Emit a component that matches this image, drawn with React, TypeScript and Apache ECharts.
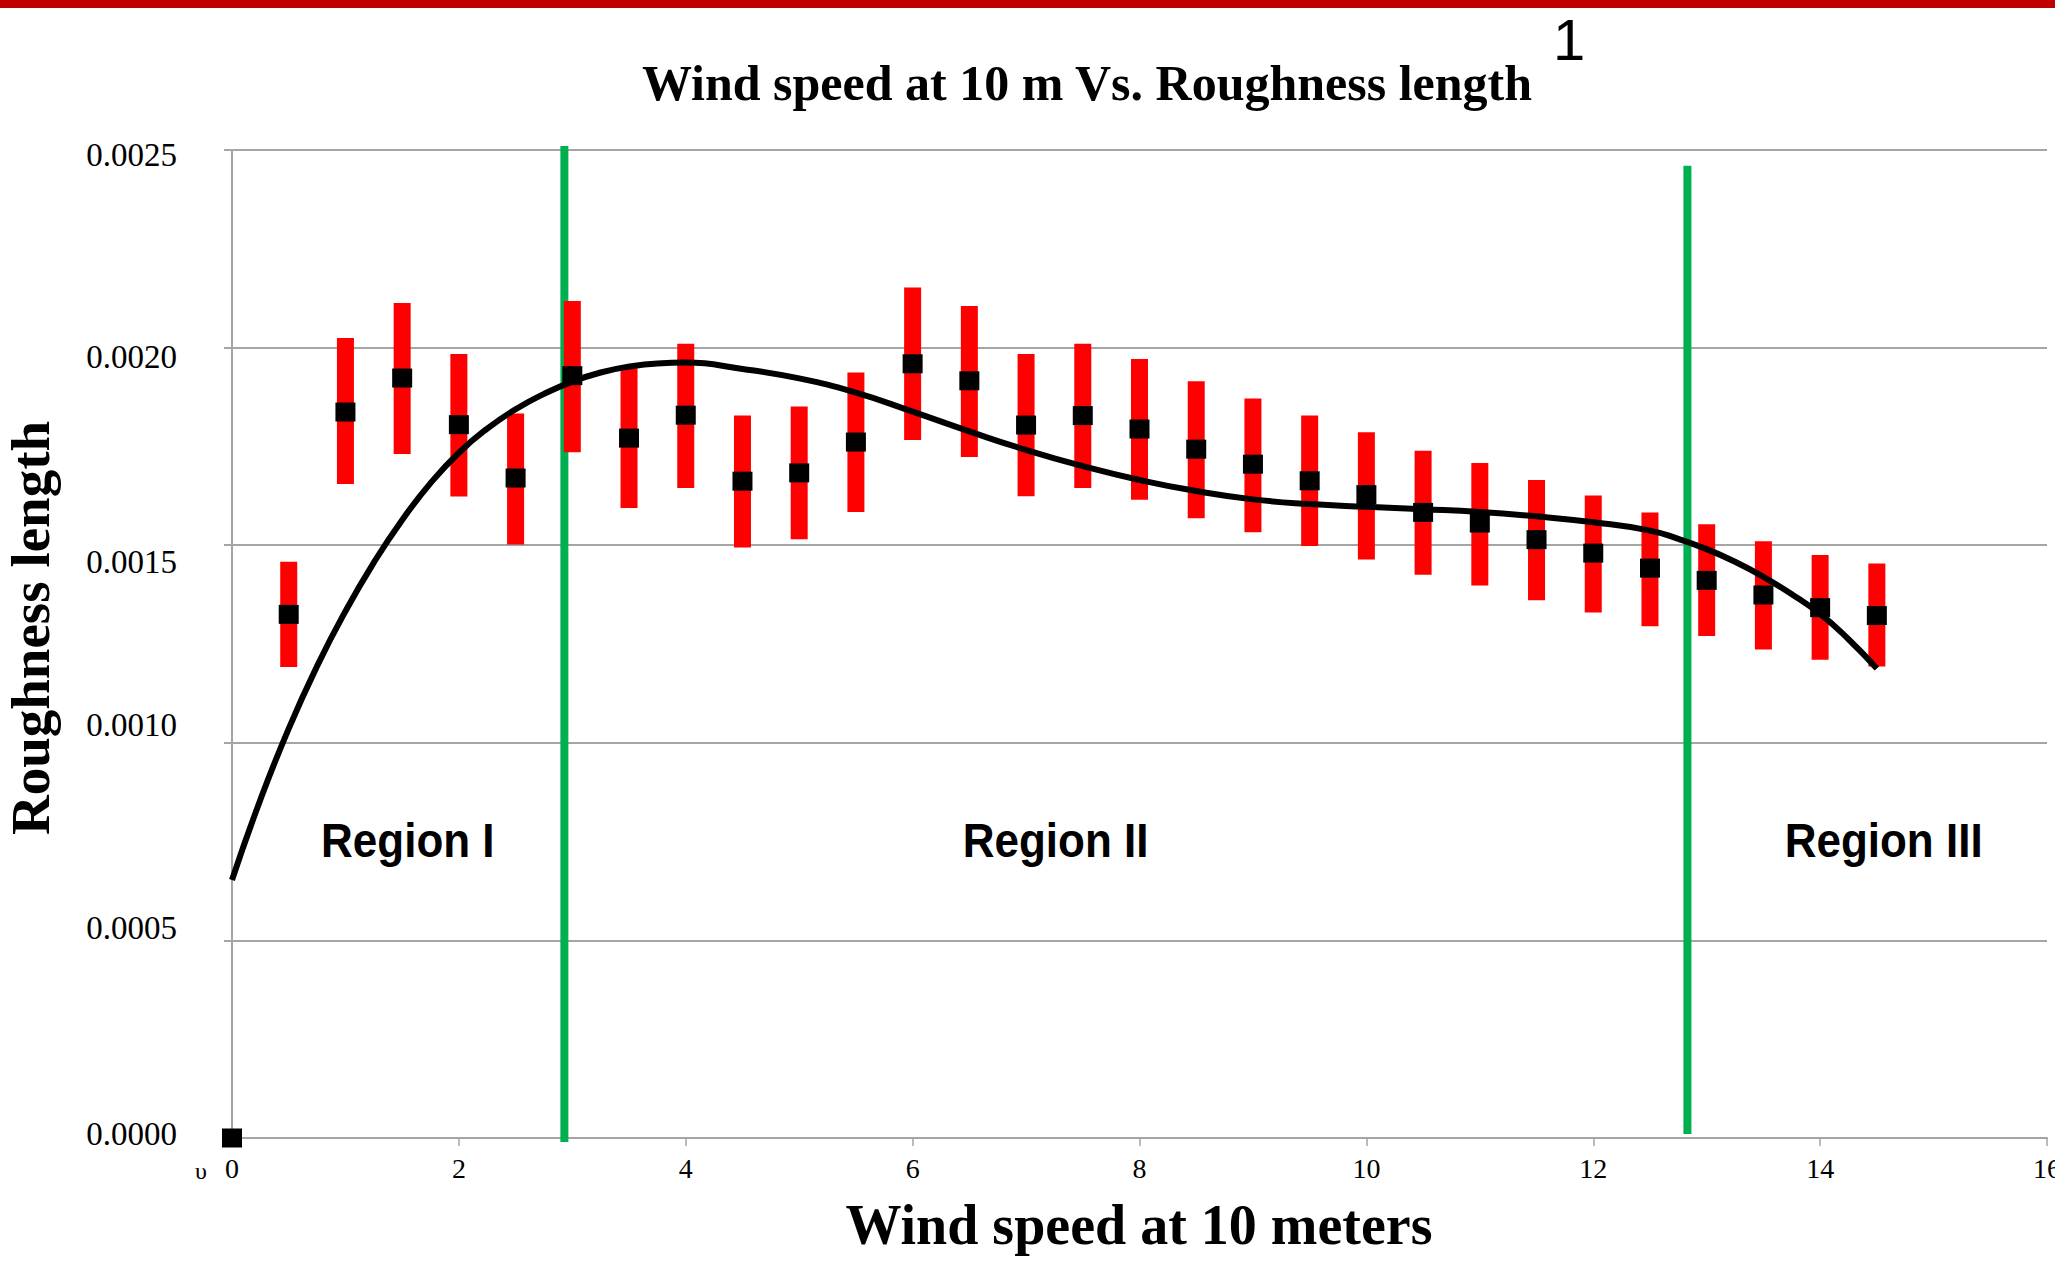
import React, { useEffect, useRef } from "react";
import * as echarts from "echarts";

// ---- data ----
const windSpeed = [0.5, 1, 1.5, 2, 2.5, 3, 3.5, 4, 4.5, 5, 5.5, 6, 6.5, 7, 7.5, 8, 8.5, 9, 9.5, 10, 10.5, 11, 11.5, 12, 12.5, 13, 13.5, 14, 14.5];
const roughnessMean = [0.001325, 0.001837, 0.001923, 0.001805, 0.00167, 0.001929, 0.001771, 0.001829, 0.001662, 0.001683, 0.001761, 0.001959, 0.001916, 0.001804, 0.001828, 0.001794, 0.001743, 0.001705, 0.001663, 0.001628, 0.001583, 0.001556, 0.001514, 0.00148, 0.001442, 0.001411, 0.001374, 0.001342, 0.001322];
const roughnessLow = [0.001192, 0.001655, 0.001731, 0.001623, 0.001502, 0.001735, 0.001594, 0.001645, 0.001494, 0.001515, 0.001584, 0.001766, 0.001723, 0.001624, 0.001645, 0.001615, 0.001568, 0.001533, 0.001498, 0.001464, 0.001425, 0.001398, 0.001361, 0.00133, 0.001295, 0.00127, 0.001236, 0.00121, 0.001193];
const roughnessHigh = [0.001458, 0.002024, 0.002113, 0.001984, 0.001833, 0.002118, 0.001948, 0.00201, 0.001828, 0.001851, 0.001937, 0.002152, 0.002105, 0.001984, 0.00201, 0.001971, 0.001915, 0.001871, 0.001828, 0.001786, 0.001739, 0.001708, 0.001665, 0.001626, 0.001583, 0.001553, 0.00151, 0.001475, 0.001454];
const originPoint = [0, 0];

// polynomial trend line
const trendX = [0, 0.25, 0.5, 0.75, 1, 1.25, 1.5, 1.75, 2, 2.25, 2.5, 2.75, 3, 3.25, 3.5, 3.75, 4, 4.5, 5, 5.5, 6, 6.5, 7, 7.5, 8, 8.5, 9, 9.5, 10, 10.5, 11, 11.5, 12, 12.5, 12.75, 13, 13.25, 13.5, 13.75, 14, 14.25, 14.5];
const trendY = [0.000653, 0.000856, 0.001036, 0.001194, 0.001333, 0.001456, 0.001564, 0.001657, 0.001734, 0.001795, 0.001844, 0.001883, 0.001914, 0.001937, 0.001952, 0.00196, 0.001962, 0.001946, 0.001922, 0.001886, 0.001838, 0.001788, 0.001741, 0.0017, 0.001665, 0.001637, 0.001616, 0.001604, 0.001597, 0.001591, 0.001584, 0.001573, 0.001558, 0.001537, 0.001516, 0.00149, 0.001458, 0.00142, 0.001376, 0.001326, 0.001262, 0.001188];

const boundaryX = [2.93, 12.83];
const boundaryBottom = [-0.00001, 0.00001];
const boundaryTop = [0.00251, 0.00246];

const regionNames = ["Region I", "Region II", "Region III"];
const regionX = [1.55, 7.26, 14.56];
const regionY = [0.000754, 0.000754, 0.000754];

const xTicks = [0, 2, 4, 6, 8, 10, 12, 14, 16];
const yTicks = [0, 0.0005, 0.001, 0.0015, 0.002, 0.0025];

const chartTitle = "Wind speed at 10 m Vs. Roughness length";
const titleNote = "1";
const xAxisTitle = "Wind speed at 10 meters";
const yAxisTitle = "Roughness length";
const strayGlyph = "\u03c5";

export default function App() {
  const ref = useRef<HTMLDivElement>(null);

  useEffect(() => {
    if (!ref.current) return;
    const chart = echarts.init(ref.current, undefined, { renderer: "svg" });

    const serif = "'Liberation Serif', 'Times New Roman', serif";
    const sans = "'Liberation Sans', Arial, sans-serif";
    const gridColor = "#a5a5a5";

    // vertical shifts of the y tick labels (px, + = down), as in the reference
    const yLabelShift = [-4, -12, -17.5, 17, 9.5, 5];
    const yStep = yTicks[1] - yTicks[0];
    const rich: Record<string, any> = {};
    yLabelShift.forEach((d, i) => {
      rich["s" + i] = {
        fontFamily: serif,
        fontSize: 33,
        color: "#000",
        padding: d >= 0 ? [2 * d, 0, 0, 0] : [0, 0, -2 * d, 0],
      };
    });

    const option: any = {
      animation: false,
      backgroundColor: "#fff",
      grid: {
        left: 232,
        right: 8,
        top: 150,
        bottom: 127,
        containLabel: false,
        outerBoundsMode: "none",
      },
      xAxis: {
        type: "value",
        min: xTicks[0],
        max: xTicks[xTicks.length - 1],
        interval: xTicks[1] - xTicks[0],
        axisLine: { show: true, onZero: false, lineStyle: { color: gridColor, width: 2 } },
        axisTick: { show: true, inside: false, length: 8, lineStyle: { color: gridColor, width: 1.5 } },
        splitLine: { show: false },
        axisLabel: {
          show: true,
          margin: 16,
          fontFamily: serif,
          fontSize: 28,
          color: "#000",
          showMinLabel: true,
          showMaxLabel: true,
          hideOverlap: false,
        },
      },
      yAxis: {
        type: "value",
        min: yTicks[0],
        max: yTicks[yTicks.length - 1],
        interval: yStep,
        axisLine: { show: true, lineStyle: { color: gridColor, width: 2 } },
        axisTick: { show: true, inside: false, length: 8, lineStyle: { color: gridColor, width: 2 } },
        splitLine: { show: true, lineStyle: { color: gridColor, width: 2 } },
        axisLabel: {
          show: true,
          margin: 55,
          fontFamily: serif,
          fontSize: 33,
          color: "#000",
          showMinLabel: true,
          showMaxLabel: true,
          hideOverlap: false,
          formatter: (v: number) => {
            const i = Math.round(v / yStep);
            return "{s" + i + "|" + v.toFixed(4) + "}";
          },
          rich,
        },
      },
      series: [
        ...boundaryX.map((bx, i) => ({
          type: "line",
          name: "boundary" + i,
          z: 1,
          clip: false,
          symbol: "none",
          silent: true,
          data: [
            [bx, boundaryBottom[i]],
            [bx, boundaryTop[i]],
          ],
          lineStyle: { color: "#00b050", width: 8, cap: "butt" },
        })),
        {
          type: "custom",
          name: "range",
          z: 2,
          clip: false,
          silent: true,
          encode: { x: 0, y: [1, 2] },
          data: windSpeed.map((x, i) => [x, roughnessLow[i], roughnessHigh[i]]),
          renderItem: (params: any, api: any) => {
            const x = api.value(0);
            const lo = api.coord([x, api.value(1)]);
            const hi = api.coord([x, api.value(2)]);
            const w = 17;
            return {
              type: "rect",
              shape: { x: lo[0] - w / 2, y: hi[1], width: w, height: lo[1] - hi[1] },
              style: { fill: "#ff0000" },
            };
          },
        },
        {
          type: "line",
          name: "trend",
          z: 3,
          clip: false,
          smooth: 0.5,
          symbol: "none",
          silent: true,
          data: trendX.map((x, i) => [x, trendY[i]]),
          lineStyle: { color: "#000", width: 6, cap: "butt", join: "round" },
        },
        {
          type: "scatter",
          name: "mean",
          z: 4,
          clip: false,
          silent: true,
          symbol: "rect",
          symbolSize: [20, 19],
          itemStyle: { color: "#000", opacity: 1 },
          data: [originPoint, ...windSpeed.map((x, i) => [x, roughnessMean[i]])],
        },
        {
          type: "custom",
          name: "regions",
          z: 5,
          clip: false,
          silent: true,
          encode: { x: 0, y: 1 },
          data: regionNames.map((n, i) => [regionX[i], regionY[i], i]),
          renderItem: (params: any, api: any) => {
            const p = api.coord([api.value(0), api.value(1)]);
            const name = regionNames[api.value(2)];
            return {
              type: "text",
              x: p[0],
              y: p[1],
              scaleY: 1.1,
              style: {
                text: name,
                fill: "#000",
                font: "bold 44px " + sans,
                align: "center",
                verticalAlign: "middle",
              },
            };
          },
        },
      ],
      graphic: [
        {
          type: "rect",
          left: 0,
          top: 0,
          shape: { width: 2055, height: 8 },
          style: { fill: "#c00000" },
          silent: true,
        },
        {
          type: "text",
          x: 1087,
          y: 83,
          style: {
            text: chartTitle,
            font: "bold 50px " + serif,
            fill: "#000",
            align: "center",
            verticalAlign: "middle",
          },
        },
        {
          type: "text",
          x: 1569,
          y: 39,
          style: {
            text: titleNote,
            font: "58px " + sans,
            fill: "#000",
            align: "center",
            verticalAlign: "middle",
          },
        },
        {
          type: "text",
          x: 1139,
          y: 1225,
          style: {
            text: xAxisTitle,
            font: "bold 56px " + serif,
            fill: "#000",
            align: "center",
            verticalAlign: "middle",
          },
        },
        {
          type: "text",
          x: 30,
          y: 628,
          rotation: Math.PI / 2,
          style: {
            text: yAxisTitle,
            font: "bold 55px " + serif,
            fill: "#000",
            align: "center",
            verticalAlign: "middle",
          },
        },
        {
          type: "text",
          x: 201,
          y: 1171,
          style: {
            text: strayGlyph,
            font: "24px " + serif,
            fill: "#000",
            align: "center",
            verticalAlign: "middle",
          },
        },
      ],
    };

    chart.setOption(option);
    return () => {
      chart.dispose();
    };
  }, []);

  return (
    <div
      ref={ref}
      style={{ position: "fixed", left: 0, top: 0, width: 2055, height: 1265, background: "#fff" }}
    />
  );
}
